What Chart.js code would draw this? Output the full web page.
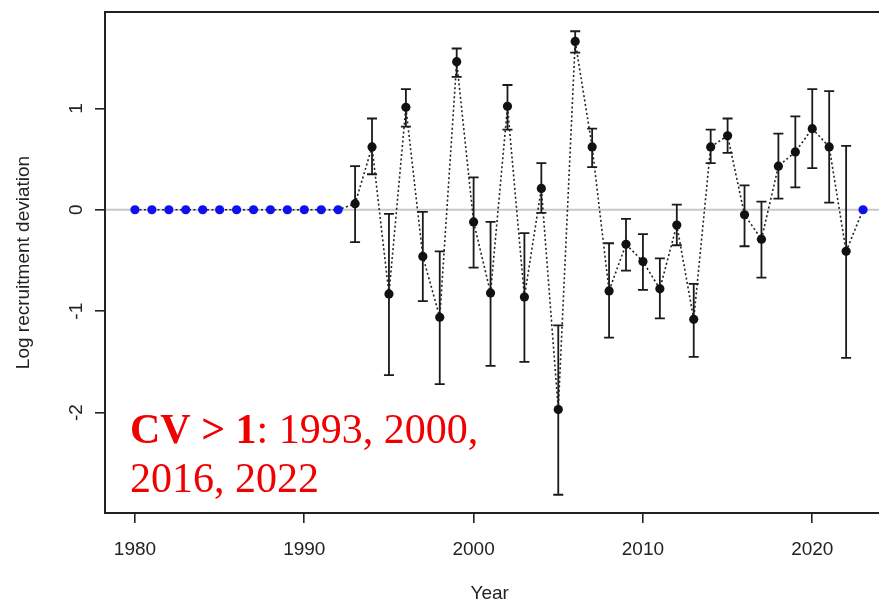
<!DOCTYPE html>
<html>
<head>
<meta charset="utf-8">
<script src="https://cdn.jsdelivr.net/npm/chart.js@4.4.1/dist/chart.umd.min.js"></script>
<style>
  html, body { margin: 0; padding: 0; background: #fff; }
  #wrap { width: 879px; height: 603px; position: relative; }
</style>
</head>
<body>
<div id="wrap"><canvas id="recChart" width="879" height="603"></canvas></div>
<script>
// fixed (not estimated) years, drawn in blue at zero
const fixedYears = [1980, 1981, 1982, 1983, 1984, 1985, 1986, 1987, 1988, 1989, 1990, 1991, 1992, 2023];
const fixedDev = [0, 0, 0, 0, 0, 0, 0, 0, 0, 0, 0, 0, 0, 0];

// estimated recruitment deviations with interval bounds
const estYears = [1993, 1994, 1995, 1996, 1997, 1998, 1999, 2000, 2001, 2002,
                  2003, 2004, 2005, 2006, 2007, 2008, 2009, 2010, 2011, 2012,
                  2013, 2014, 2015, 2016, 2017, 2018, 2019, 2020, 2021, 2022];
const estDev = [0.06, 0.62, -0.83, 1.01, -0.46, -1.06, 1.46, -0.12, -0.82, 1.02,
                -0.86, 0.21, -1.97, 1.66, 0.62, -0.80, -0.34, -0.51, -0.78, -0.15,
                -1.08, 0.62, 0.73, -0.05, -0.29, 0.43, 0.57, 0.80, 0.62, -0.41];
const estLow = [-0.32, 0.35, -1.63, 0.82, -0.90, -1.72, 1.31, -0.57, -1.54, 0.79,
                -1.50, -0.03, -2.81, 1.55, 0.42, -1.26, -0.60, -0.79, -1.07, -0.35,
                -1.45, 0.46, 0.56, -0.36, -0.67, 0.11, 0.22, 0.41, 0.07, -1.46];
const estHigh = [0.43, 0.90, -0.04, 1.19, -0.02, -0.41, 1.59, 0.32, -0.12, 1.23,
                 -0.23, 0.46, -1.14, 1.76, 0.80, -0.33, -0.09, -0.24, -0.48, 0.05,
                 -0.73, 0.79, 0.90, 0.24, 0.08, 0.75, 0.92, 1.19, 1.17, 0.63];

const xTicks = [1980, 1990, 2000, 2010, 2020];
const yTicks = [-2, -1, 0, 1];

// all points in year order for the dotted connecting line
const allPts = fixedYears.map((y, i) => ({ x: y, y: fixedDev[i], fixed: true }))
  .concat(estYears.map((y, i) => ({ x: y, y: estDev[i], fixed: false })))
  .sort((a, b) => a.x - b.x);

const axisFont = { family: "'Liberation Sans', Arial, sans-serif", size: 19 };

const errorBars = {
  id: 'errorBars',
  beforeDatasetsDraw(chart) {
    const { ctx, chartArea: a, scales: { x, y } } = chart;
    ctx.save();
    // zero reference line, runs off the right edge like the cropped original
    const y0 = y.getPixelForValue(0);
    ctx.strokeStyle = '#c8c8cc';
    ctx.lineWidth = 2;
    ctx.beginPath();
    ctx.moveTo(a.left, y0); ctx.lineTo(chart.width, y0);
    ctx.stroke();

    ctx.strokeStyle = '#1a1a1a';
    ctx.lineWidth = 1.8;
    estYears.forEach((yr, i) => {
      const px = x.getPixelForValue(yr);
      const lo = y.getPixelForValue(estLow[i]);
      const hi = y.getPixelForValue(estHigh[i]);
      ctx.beginPath();
      ctx.moveTo(px, lo); ctx.lineTo(px, hi);
      ctx.moveTo(px - 5, lo); ctx.lineTo(px + 5, lo);
      ctx.moveTo(px - 5, hi); ctx.lineTo(px + 5, hi);
      ctx.stroke();
    });
    ctx.restore();
  }
};

const frame = {
  id: 'frame',
  afterDraw(chart) {
    const { ctx, chartArea: a } = chart;
    ctx.save();
    ctx.strokeStyle = '#222';
    ctx.lineWidth = 2;
    ctx.beginPath();
    ctx.moveTo(chart.width, a.top); ctx.lineTo(a.left, a.top);
    ctx.lineTo(a.left, a.bottom); ctx.lineTo(chart.width, a.bottom);
    ctx.stroke();

    // CV note
    const serif = "'Liberation Serif', 'DejaVu Serif', serif";
    ctx.fillStyle = '#f00000';
    ctx.textBaseline = 'alphabetic';
    ctx.font = 'bold 42px ' + serif;
    const bold = 'CV > 1';
    ctx.fillText(bold, 130, 443);
    const w = ctx.measureText(bold).width;
    ctx.font = '42px ' + serif;
    ctx.fillText(': 1993, 2000,', 130 + w, 443);
    ctx.fillText('2016, 2022', 130, 492);
    ctx.restore();
  }
};

new Chart(document.getElementById('recChart'), {
  type: 'line',
  data: {
    datasets: [{
      data: allPts,
      borderColor: '#222',
      borderWidth: 1.6,
      borderDash: [2, 2.5],
      pointRadius: 4.6,
      pointBorderWidth: 0,
      pointBackgroundColor: allPts.map(p => p.fixed ? '#1010ee' : '#111'),
      pointBorderColor: allPts.map(p => p.fixed ? '#1010ee' : '#111'),
      tension: 0,
      clip: false
    }]
  },
  options: {
    responsive: false,
    animation: false,
    layout: { padding: { top: 12, left: 0, right: 0, bottom: 0 } },
    plugins: { legend: { display: false }, tooltip: { enabled: false } },
    scales: {
      x: {
        type: 'linear',
        min: 1978.23,
        max: 2023.67,
        afterBuildTicks: s => { s.ticks = xTicks.map(v => ({ value: v })); },
        afterFit: s => { s.height = 90; s.paddingLeft = 0; s.paddingRight = 0; },
        border: { display: false },
        grid: { drawOnChartArea: false, drawTicks: true, tickLength: 10, tickColor: '#222', lineWidth: 1.6 },
        ticks: { color: '#222', font: axisFont, padding: 15, maxRotation: 0, autoSkip: false, callback: v => String(v) },
        title: { display: true, text: 'Year', color: '#222', font: { ...axisFont, lineHeight: 1 }, padding: 0 }
      },
      y: {
        min: -2.99,
        max: 1.95,
        afterBuildTicks: s => { s.ticks = yTicks.map(v => ({ value: v })); },
        afterFit: s => { s.width = 105; s.paddingTop = 0; s.paddingBottom = 0; },
        border: { display: false },
        grid: {
          drawOnChartArea: false,
          drawTicks: true,
          tickLength: 10,
          tickColor: '#222',
          lineWidth: 1.6
        },
        ticks: { color: '#222', font: axisFont, padding: 10, minRotation: 90, maxRotation: 90, crossAlign: 'center', autoSkip: false, callback: v => String(v) },
        title: { display: true, text: 'Log recruitment deviation', color: '#222', font: { ...axisFont, lineHeight: 1 }, padding: { top: 14, bottom: 0 } }
      }
    }
  },
  plugins: [errorBars, frame]
});
</script>
</body>
</html>
